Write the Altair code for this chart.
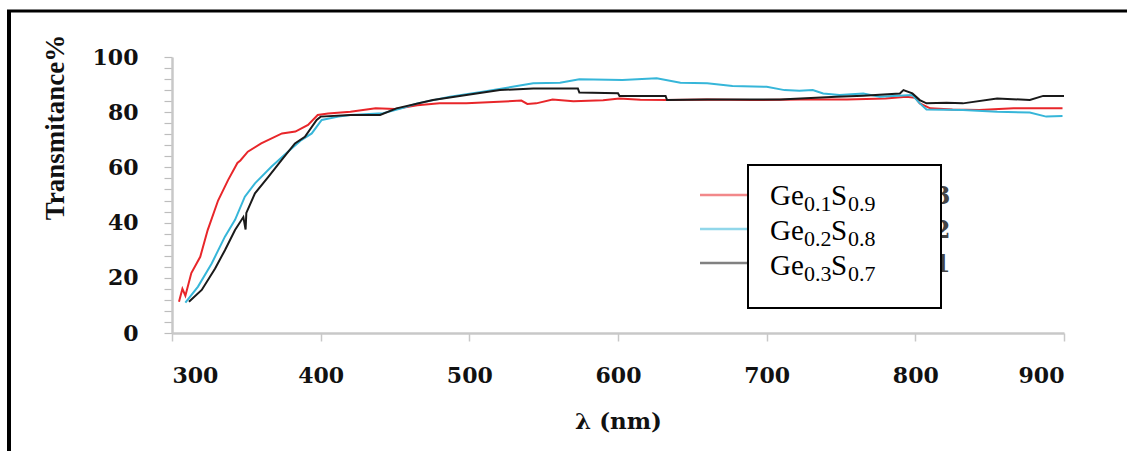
import altair as alt
import pandas as pd

# ---------------- data ----------------
series_names = ["Ge0.1S0.9", "Ge0.2S0.8", "Ge0.3S0.7"]
series_colors = ["#E8262A", "#36B6D9", "#1A1A1A"]

red_nm = [304.7, 307, 309, 313, 319, 324, 331, 337.7, 344, 346, 351, 360, 374, 383, 391.5, 398,
          405, 420, 437, 450, 465, 480, 498, 520, 535, 539, 545, 556, 570, 590, 601, 615, 633,
          660, 690, 722, 754, 780, 794, 800, 803, 810, 825, 843, 866, 899]
red_t = [11.3, 16, 13.5, 21.7, 27.6, 37.3, 48, 55.4, 61.6, 62.5, 65.7, 68.7, 72.3, 73, 75.4, 79,
         79.5, 80.2, 81.4, 81.2, 82.5, 83.2, 83.2, 83.8, 84.2, 83, 83.2, 84.6, 84, 84.3, 85, 84.5, 84.4,
         84.6, 84.4, 84.6, 84.6, 85, 85.6, 85.2, 83.2, 81.4, 81, 80.8, 81.4, 81.4]

cyan_nm = [309, 317.5, 326.7, 335.6, 342.4, 349, 355.8, 367, 378, 387, 394, 400.7, 412, 420, 442,
           455, 465, 487, 509, 532, 543, 561, 574, 603, 626, 642, 660, 677, 700, 712, 722, 731,
           738, 749, 765, 776, 798, 803, 807.5, 832, 855, 877, 888, 899]
cyan_t = [11, 16.8, 25.2, 34.9, 41, 49.4, 54.2, 60.3, 65.7, 69.9, 72.3, 77.2, 78.4, 79, 79.6,
          81.5, 83.2, 85.6, 87.4, 89.5, 90.5, 90.7, 91.9, 91.7, 92.3, 90.7, 90.5, 89.5, 89.2, 88, 87.8, 88,
          86.8, 86.2, 86.8, 85.6, 86.2, 83.2, 81, 80.8, 80.2, 79.9, 78.4, 78.6]

black_nm = [311.4, 320, 329, 335.6, 342.4, 348, 349.5, 350, 355.8, 364.8, 373.8, 382.7, 389.4, 397.3,
            400, 420, 440, 451, 475.5, 498, 520.6, 543, 561, 573, 574, 600, 601, 632, 633, 660, 709,
            747, 765, 789.6, 792, 798, 803, 807.5, 821, 832, 855, 877, 886, 900]
black_t = [11.3, 15.6, 23.4, 30, 37.3, 42, 37.5, 43.5, 50.6, 56.6, 62.7, 68.7, 71.1, 77.2,
           78.4, 79, 79, 81.4, 84.4, 86.2, 88, 88.6, 88.6, 88.6, 87.1, 86.9, 85.9, 85.9, 84.4, 84.6, 84.6,
           85.6, 86, 86.8, 88, 86.8, 84.4, 83.2, 83.4, 83.2, 85, 84.4, 85.9, 85.9]

x_ticks = [300, 400, 500, 600, 700, 800, 900]
y_ticks = list(range(0, 101, 4))

legend_parts = [("Ge", "0.1", "S", "0.9"), ("Ge", "0.2", "S", "0.8"), ("Ge", "0.3", "S", "0.7")]
old_legend_digits = ["3", "2", "1"]

# ---------------- build table ----------------
rows = []
for name, xs, ys in zip(series_names, [red_nm, cyan_nm, black_nm], [red_t, cyan_t, black_t]):
    for xv, yv in zip(xs, ys):
        rows.append({"series": name, "nm": xv, "T": yv})
df = pd.DataFrame(rows)

W, H = 892, 276
one = alt.Data(values=[{"a": 1}])

lines = alt.Chart(df).mark_line(strokeWidth=2).encode(
    x=alt.X("nm:Q", title="λ (nm)",
            scale=alt.Scale(domain=[300, 900], nice=False, zero=False),
            axis=alt.Axis(values=x_ticks, format="d", grid=False,
                          domainColor="#C8C8C8", domainWidth=2.5,
                          tickColor="#C8C8C8", tickWidth=1.5, tickSize=8,
                          labelFont="DejaVu Serif", labelFontWeight="bold", labelFontSize=22,
                          labelColor="#111111", labelPadding=24,
                          titleFont="DejaVu Serif", titleFontWeight="bold", titleFontSize=23,
                          titleColor="#111111", titlePadding=24)),
    y=alt.Y("T:Q", title="Transmitance%",
            scale=alt.Scale(domain=[0, 100], nice=False),
            axis=alt.Axis(values=y_ticks, grid=False,
                          labelExpr="datum.value % 20 == 0 ? datum.label : ''",
                          labelOverlap=False,
                          domainColor="#C8C8C8", domainWidth=2.5,
                          tickColor="#BDBDBD", tickWidth=1.2, tickSize=8,
                          labelFont="DejaVu Serif", labelFontWeight="bold", labelFontSize=22,
                          labelColor="#111111", labelPadding=26,
                          titleFont="Liberation Serif", titleFontWeight="bold", titleFontSize=27,
                          titleColor="#111111", titleX=-117, titleY=70,
                          titleBaseline="middle", titleAngle=270)),
    color=alt.Color("series:N", scale=alt.Scale(domain=series_names, range=series_colors), legend=None),
)

layers = [lines]

# remnants of the original legend behind the box
old_y = [138, 172, 206]
for c, yy in zip(series_colors, old_y):
    layers.append(alt.Chart(one).mark_rule(color=c, strokeWidth=2.5, opacity=0.55).encode(
        x=alt.value(528), x2=alt.value(580), y=alt.value(yy)))
for d, yy in zip(old_legend_digits, [140, 174, 208]):
    layers.append(alt.Chart(one).mark_text(text=d, font="DejaVu Serif", fontWeight="bold",
                                           fontSize=24, color="#444444", align="center",
                                           baseline="middle").encode(
        x=alt.value(770), y=alt.value(yy)))

# legend box
layers.append(alt.Chart(one).mark_rect(fill="white", stroke="black", strokeWidth=2).encode(
    x=alt.value(576), x2=alt.value(769), y=alt.value(108), y2=alt.value(251)))

row_base = [148, 183, 218]
for parts, yb in zip(legend_parts, row_base):
    big1, sub1, big2, sub2 = parts
    specs = [(big1, 598, yb, 29), (sub1, 632, yb + 6, 22), (big2, 659, yb, 29), (sub2, 676, yb + 6, 22)]
    for txt, xx, yy, fs in specs:
        layers.append(alt.Chart(one).mark_text(text=txt, font="Liberation Serif", fontSize=fs,
                                               color="black", align="left",
                                               baseline="alphabetic").encode(
            x=alt.value(xx), y=alt.value(yy)))

# figure frame (top and left edges)
layers.append(alt.Chart(one).mark_rule(color="black", strokeWidth=3).encode(
    x=alt.value(-165), x2=alt.value(960), y=alt.value(-46)))
layers.append(alt.Chart(one).mark_rule(color="black", strokeWidth=4).encode(
    x=alt.value(-163), y=alt.value(-47), y2=alt.value(400)))

chart = alt.layer(*layers).properties(
    width=W, height=H,
    autosize=alt.AutoSizeParams(type="none"),
    padding={"left": 172, "top": 57, "right": 63, "bottom": 118},
    background="white",
).configure_view(stroke=None)

chart.save("out.html", embed_options={"renderer": "svg", "actions": False})
